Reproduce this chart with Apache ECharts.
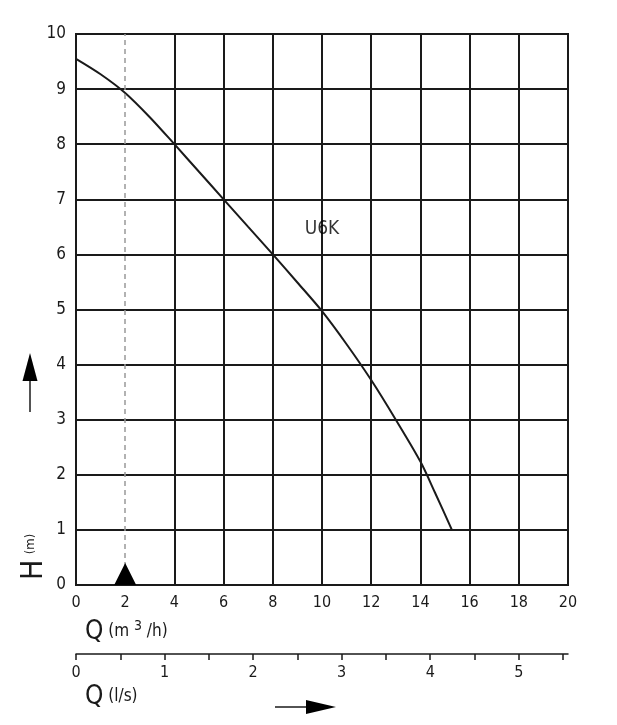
<!DOCTYPE html>
<html>
<head>
<meta charset="utf-8">
<script src="https://cdn.jsdelivr.net/npm/echarts@6/dist/echarts.min.js"></script>
<style>
  html, body { margin: 0; padding: 0; background: #fff; }
  #chart { width: 617px; height: 725px; }
</style>
</head>
<body>
<div id="chart"></div>
<script>
// pump curve U6K, flow in m3/h vs head in m
const flowM3h = [0, 1, 2, 3, 4, 5, 6, 7, 8, 9, 10, 11, 12, 13, 14, 14.6, 15.28]
const headM = [9.55, 9.27, 8.93, 8.49, 8.0, 7.5, 7.0, 6.5, 6.0, 5.49, 4.97, 4.37, 3.72, 3.0, 2.24, 1.67, 1.0]
const curveName = 'U6K'
const curveLabelAt = [10, 6.46]
const dutyFlow = 2

// second scale in l/s (1 l/s = 3.6 m3/h)
const lsTicks = [0, 0.5, 1, 1.5, 2, 2.5, 3, 3.5, 4, 4.5, 5, 5.5]
const lsLabels = [0, 1, 2, 3, 4, 5]

const ink = '#1a1a1a'
const font = '"DejaVu Sans Condensed", "DejaVu Sans", sans-serif'

// no solid grid line at Q = 2, only the dashed duty line
const xGridColors = [ink, 'rgba(0,0,0,0)', ink, ink, ink, ink, ink, ink, ink, ink, ink]

const chart = echarts.init(document.getElementById('chart'))

const curveData = flowM3h.map((q, i) => [q, headM[i]])

chart.setOption({
  animation: false,
  backgroundColor: '#fff',
  textStyle: { fontFamily: font, color: ink },
  grid: {
    left: 76,
    right: 49,
    top: 34,
    bottom: 140,
    show: true,
    borderColor: ink,
    borderWidth: 2,
    outerBoundsMode: 'none'
  },
  xAxis: [
    {
      type: 'value',
      min: 0,
      max: 20,
      interval: 2,
      axisLine: { show: true, lineStyle: { color: ink, width: 2 } },
      axisTick: { show: false },
      axisLabel: { color: ink, fontSize: 16, margin: 10, fontFamily: font },
      splitLine: { show: true, lineStyle: { color: xGridColors, width: 2 } }
    },
    {
      type: 'value',
      position: 'bottom',
      offset: 69,
      min: 0,
      max: 20 / 3.6,
      axisLine: { show: true, lineStyle: { color: ink, width: 1.5 } },
      axisTick: {
        show: true,
        inside: false,
        length: 6,
        customValues: lsTicks,
        lineStyle: { color: ink, width: 1.5 }
      },
      axisLabel: {
        color: ink,
        fontSize: 16,
        margin: 11,
        fontFamily: font,
        customValues: lsLabels
      },
      splitLine: { show: false }
    }
  ],
  yAxis: {
    type: 'value',
    min: 0,
    max: 10,
    interval: 1,
    axisLine: { show: true, lineStyle: { color: ink, width: 2 } },
    axisTick: { show: false },
    axisLabel: { color: ink, fontSize: 17, margin: 10, fontFamily: font },
    splitLine: { show: true, lineStyle: { color: ink, width: 2 } }
  },
  series: [
    {
      type: 'line',
      name: curveName,
      data: curveData,
      smooth: 0.3,
      symbol: 'none',
      lineStyle: { color: ink, width: 2 },
      markLine: {
        silent: true,
        symbol: 'none',
        label: { show: false },
        lineStyle: { color: '#999', width: 1.5, type: [5, 4] },
        data: [{ xAxis: dutyFlow }]
      },
      z: 3
    },
    {
      type: 'scatter',
      data: [[dutyFlow, 0]],
      symbol: 'triangle',
      symbolSize: [22, 22],
      symbolOffset: [0, '-50%'],
      itemStyle: { color: '#000', opacity: 1 },
      clip: false,
      z: 10
    },
    {
      type: 'scatter',
      data: [curveLabelAt],
      symbolSize: 0,
      label: {
        show: true,
        position: 'inside',
        formatter: curveName,
        color: '#000',
        fontSize: 19,
        fontFamily: font
      }
    }
  ],
  graphic: [
    // H (m) axis title, rotated
    {
      type: 'text',
      x: 19,
      y: 580,
      rotation: Math.PI / 2,
      style: {
        text: 'H',
        fontSize: 30,
        fontFamily: font,
        fill: ink,
        verticalAlign: 'top'
      }
    },
    {
      type: 'text',
      x: 31,
      y: 544,
      rotation: Math.PI / 2,
      style: {
        text: '(m)',
        fontSize: 13,
        fontFamily: font,
        fill: ink,
        align: 'center',
        verticalAlign: 'middle'
      }
    },
    // up arrow
    {
      type: 'line',
      shape: { x1: 30, y1: 378, x2: 30, y2: 412 },
      style: { stroke: ink, lineWidth: 1.5 }
    },
    {
      type: 'polygon',
      shape: { points: [[30, 353], [22.5, 381], [37.5, 381]] },
      style: { fill: '#000' }
    },
    // Q (m3/h)
    {
      type: 'text',
      x: 85,
      y: 632,
      style: {
        text: '{q|Q}{u| (m }{s|3}{u| /h)}',
        rich: {
          q: { fontSize: 26, fontFamily: font, fill: ink },
          u: { fontSize: 17, fontFamily: font, fill: ink },
          s: { fontSize: 14, fontFamily: font, fill: ink, verticalAlign: 'top', padding: [0, 0, 6, 0] }
        },
        verticalAlign: 'middle'
      }
    },
    // Q (l/s)
    {
      type: 'text',
      x: 85,
      y: 697,
      style: {
        text: '{q|Q}{u| (l/s)}',
        rich: {
          q: { fontSize: 26, fontFamily: font, fill: ink },
          u: { fontSize: 17, fontFamily: font, fill: ink }
        },
        verticalAlign: 'middle'
      }
    },
    // right arrow
    {
      type: 'line',
      shape: { x1: 275, y1: 707, x2: 308, y2: 707 },
      style: { stroke: ink, lineWidth: 1.5 }
    },
    {
      type: 'polygon',
      shape: { points: [[306, 700], [306, 714], [336, 707]] },
      style: { fill: '#000' }
    }
  ]
})
</script>
</body>
</html>
